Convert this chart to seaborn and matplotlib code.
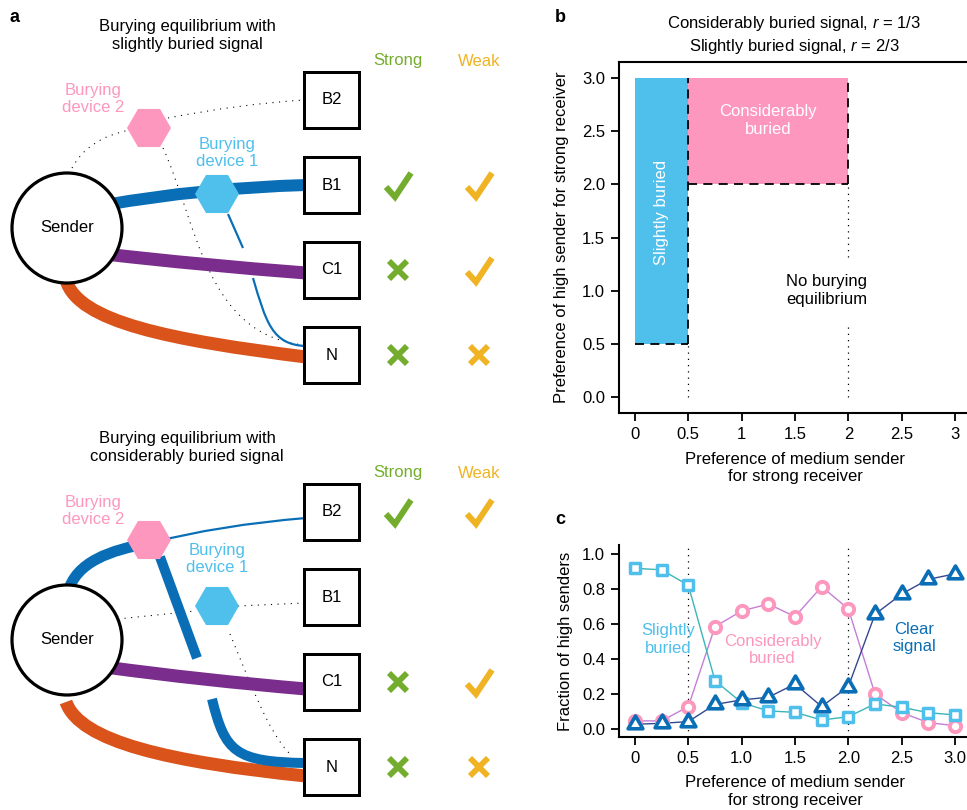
import numpy as np
import pandas as pd
import matplotlib
matplotlib.use("Agg")
import matplotlib.pyplot as plt
import seaborn as sns
from matplotlib.patches import Circle, Rectangle, RegularPolygon, PathPatch
from matplotlib.path import Path
from matplotlib.markers import MarkerStyle

# ---------------- data ----------------
# panel c
pref_medium = [0, 0.25, 0.5, 0.75, 1.0, 1.25, 1.5, 1.75, 2.0, 2.25, 2.5, 2.75, 3.0]
slightly_buried = [0.918, 0.909, 0.821, 0.276, 0.150, 0.103, 0.095, 0.051, 0.070, 0.143, 0.124, 0.093, 0.080]
considerably_buried = [0.046, 0.046, 0.128, 0.585, 0.674, 0.714, 0.642, 0.813, 0.686, 0.200, 0.093, 0.036, 0.019]
clear_signal = [0.027, 0.032, 0.042, 0.140, 0.166, 0.181, 0.257, 0.128, 0.242, 0.655, 0.771, 0.855, 0.886]

# panel b regions
region_names = ["Slightly buried", "Considerably buried"]
region_x0 = [0.0, 0.5]
region_x1 = [0.5, 2.0]
region_y0 = [0.5, 2.0]
region_y1 = [3.0, 3.0]
b_xticks = [0, 0.5, 1, 1.5, 2, 2.5, 3]
b_xticklabels = ["0", "0.5", "1", "1.5", "2", "2.5", "3"]
b_yticks = [0, 0.5, 1, 1.5, 2, 2.5, 3]
b_yticklabels = ["0.0", "0.5", "1.0", "1.5", "2.0", "2.5", "3.0"]
c_xticks = [0, 0.5, 1, 1.5, 2, 2.5, 3]
c_xticklabels = ["0", "0.5", "1.0", "1.5", "2.0", "2.5", "3.0"]
c_yticks = [0, 0.2, 0.4, 0.6, 0.8, 1.0]
c_yticklabels = ["0.0", "0.2", "0.4", "0.6", "0.8", "1.0"]

# panel a
receivers = ["B2", "B1", "C1", "N"]
strong_top = ["", "check", "cross", "cross"]
weak_top = ["", "check", "check", "cross"]
strong_bottom = ["check", "", "cross", "cross"]
weak_bottom = ["check", "", "check", "cross"]

# ---------------- style ----------------
sns.set_theme(style="ticks")
plt.rcParams["font.family"] = ["Liberation Sans", "DejaVu Sans"]
plt.rcParams["mathtext.fontset"] = "custom"
plt.rcParams["mathtext.it"] = "Liberation Sans:italic"
plt.rcParams["mathtext.rm"] = "Liberation Sans"
plt.rcParams["text.color"] = "black"
plt.rcParams["axes.labelcolor"] = "black"
plt.rcParams["axes.edgecolor"] = "black"

LIGHTBLUE = "#4fbfec"
PINK = "#fd97be"
DARKBLUE = "#0a6eb6"
PURPLE = "#7a2d8c"
ORANGE = "#d9531a"
GREEN = "#74ad2e"
YELLOW = "#f0b323"
FS = 12
PX = 0.72  # points per pixel

fig = plt.figure(figsize=(9.67, 8.10), dpi=100)
axd = fig.add_axes([0, 0, 1, 1])
axd.set_xlim(0, 967)
axd.set_ylim(810, 0)
axd.axis("off")


def curve(pts, codes, color, lw_px, ls="-", z=2):
    p = Path(pts, codes)
    patch = PathPatch(p, fill=False, edgecolor=color, lw=lw_px * PX, linestyle=ls,
                      capstyle="butt", zorder=z)
    axd.add_patch(patch)


def cubic(p0, c1, c2, p3, color, lw_px, ls="-", z=2):
    curve([p0, c1, c2, p3], [Path.MOVETO, Path.CURVE4, Path.CURVE4, Path.CURVE4], color, lw_px, ls, z)


def quad(p0, c, p2, color, lw_px, ls="-", z=2):
    curve([p0, c, p2], [Path.MOVETO, Path.CURVE3, Path.CURVE3], color, lw_px, ls, z)


DOT = (0, (1, 5))


def check(x, y, color):
    axd.plot([x - 12, x - 3, x + 13], [y + 2, y + 12, y - 12], color=color, lw=6 * PX,
             solid_joinstyle="miter", solid_capstyle="butt", zorder=5)


def cross(x, y, color):
    axd.plot([x - 9, x + 9], [y - 9, y + 9], color=color, lw=5.8 * PX, solid_capstyle="butt", zorder=5)
    axd.plot([x - 9, x + 9], [y + 9, y - 9], color=color, lw=5.8 * PX, solid_capstyle="butt", zorder=5)


def diagram(oy, title, strong, weak, top):
    axd.text(187, oy + 35, title, ha="center", va="center", fontsize=FS, linespacing=1.25)
    axd.text(398, oy + 61, "Strong", color=GREEN, ha="center", va="center", fontsize=FS)
    axd.text(479, oy + 61, "Weak", color=YELLOW, ha="center", va="center", fontsize=FS)
    ys = [oy + 100, oy + 185, oy + 270, oy + 355]
    for name, yc, s, w in zip(receivers, ys, strong, weak):
        axd.add_patch(Rectangle((304, yc - 28), 55, 56, facecolor="white", edgecolor="black",
                                lw=3 * PX, zorder=6))
        axd.text(331.5, yc, name, ha="center", va="center", fontsize=FS, zorder=7)
        for col, mark, xx in [(GREEN, s, 398), (YELLOW, w, 479)]:
            if mark == "check":
                check(xx, yc, col)
            elif mark == "cross":
                cross(xx, yc, col)
    sx, sy = 67, oy + 228
    axd.add_patch(Circle((sx, sy), 55, facecolor="white", edgecolor="black", lw=3.2 * PX, zorder=6))
    axd.text(sx, sy, "Sender", ha="center", va="center", fontsize=FS, zorder=7)
    h2 = (149, oy + 128)
    h1 = (217, oy + 194)
    for (hx, hy), col in [(h2, PINK), (h1, LIGHTBLUE)]:
        axd.add_patch(RegularPolygon((hx, hy), 6, radius=22, orientation=np.pi / 6,
                                     facecolor=col, edgecolor="none", zorder=4))
    axd.text(93, oy + 99, "Burying\ndevice 2", color=PINK, ha="center", va="center",
             fontsize=FS, linespacing=1.2)
    if top:
        axd.text(227, oy + 153, "Burying\ndevice 1", color=LIGHTBLUE, ha="center", va="center",
                 fontsize=FS, linespacing=1.2)
        # dotted paths
        quad((72, oy + 168), (88, oy + 138), (130, oy + 130), "black", 1.1, DOT, 1)
        quad((168, oy + 118), (240, oy + 104), (304, oy + 100), "black", 1.1, DOT, 1)
        cubic((163, oy + 148), (197, oy + 222), (205, oy + 335), (304, oy + 345), "black", 1.1, DOT, 1)
        # solid paths
        quad((105, oy + 205), (200, oy + 188), (306, oy + 185), DARKBLUE, 12)
        axd.plot([228, 243], [oy + 214, oy + 248], color=DARKBLUE, lw=2.2 * PX, solid_capstyle="butt", zorder=2)
        cubic((253, oy + 278), (266, oy + 322), (272, oy + 345), (306, oy + 346), DARKBLUE, 2.2)
        quad((105, oy + 254), (200, oy + 265), (306, oy + 273), PURPLE, 13)
        cubic((66, oy + 280), (78, oy + 322), (170, oy + 340), (306, oy + 357), ORANGE, 13)
    else:
        axd.text(217, oy + 147, "Burying\ndevice 1", color=LIGHTBLUE, ha="center", va="center",
                 fontsize=FS, linespacing=1.2)
        # dotted
        axd.plot([118, 195], [oy + 207, oy + 199], color="black", lw=1.1 * PX, ls=DOT, zorder=1)
        axd.plot([238, 304], [oy + 194, oy + 191], color="black", lw=1.1 * PX, ls=DOT, zorder=1)
        cubic((230, oy + 222), (250, oy + 270), (268, oy + 320), (290, oy + 342), "black", 1.1, DOT, 1)
        # solid
        cubic((68, oy + 180), (76, oy + 150), (110, oy + 138), (150, oy + 131), DARKBLUE, 11)
        quad((150, oy + 131), (220, oy + 113), (306, oy + 106), DARKBLUE, 2.2)
        axd.plot([160, 197], [oy + 145, oy + 246], color=DARKBLUE, lw=10 * PX, solid_capstyle="butt", zorder=2)
        quad((105, oy + 255), (200, oy + 268), (306, oy + 277), PURPLE, 13)
        cubic((66, oy + 290), (80, oy + 330), (170, oy + 350), (306, oy + 364), ORANGE, 13)
        cubic((212, oy + 287), (225, oy + 340), (235, oy + 350), (306, oy + 351), DARKBLUE, 10, "-", 3)


axd.text(15, 17, "a", fontsize=13, fontweight="bold", ha="center", va="center")
diagram(0, "Burying equilibrium with\nslightly buried signal", strong_top, weak_top, True)
diagram(412, "Burying equilibrium with\nconsiderably buried signal", strong_bottom, weak_bottom, False)
axd.text(560, 17, "b", fontsize=13, fontweight="bold", ha="center", va="center")
axd.text(560, 520, "c", fontsize=13, fontweight="bold", ha="center", va="center")

# ---------------- panel b ----------------
axb = fig.add_axes([619 / 967, 1 - 413 / 810, 352 / 967, 351 / 810])
axb.set_xlim(-0.15, 3.15)
axb.set_ylim(-0.15, 3.15)
for nm, x0, x1, y0, y1, col in zip(region_names, region_x0, region_x1, region_y0, region_y1, [LIGHTBLUE, PINK]):
    axb.fill_between([x0, x1], [y0, y0], [y1, y1], color=col, lw=0, zorder=1)
dash = (0, (5, 3.5))
lwd = 1.3
axb.plot([region_x1[0], region_x1[0]], [region_y0[0], region_y1[0]], color="black", lw=lwd, ls=dash, zorder=3)
axb.plot([region_x0[0], region_x1[0]], [region_y0[0], region_y0[0]], color="black", lw=lwd, ls=dash, zorder=3)
axb.plot([region_x0[1], region_x1[1]], [region_y0[1], region_y0[1]], color="black", lw=lwd, ls=dash, zorder=3)
axb.plot([region_x1[1], region_x1[1]], [region_y0[1], region_y1[1]], color="black", lw=lwd, ls=dash, zorder=3)
axb.plot([0.5, 0.5], [0, 0.5], color="black", lw=0.9, ls=(0, (1, 4)), zorder=2)
axb.plot([2.0, 2.0], [0, 0.7], color="black", lw=0.9, ls=(0, (1, 4)), zorder=2)
axb.plot([2.0, 2.0], [1.32, 2.0], color="black", lw=0.9, ls=(0, (1, 4)), zorder=2)
axb.text(0.25, 1.74, "Slightly buried", rotation=90, color="white", ha="center", va="center", fontsize=FS)
axb.text(1.25, 2.6, "Considerably\nburied", color="white", ha="center", va="center", fontsize=FS, linespacing=1.2)
axb.text(1.795, 1.0, "No burying\nequilibrium", color="black", ha="center", va="center", fontsize=FS, linespacing=1.2)
axb.set_xticks(b_xticks)
axb.set_xticklabels(b_xticklabels)
axb.set_yticks(b_yticks)
axb.set_yticklabels(b_yticklabels)
for sp in axb.spines.values():
    sp.set_linewidth(1.5)
axb.tick_params(labelsize=FS, width=1.3, length=6, pad=4, colors="black")
axb.set_xlabel("Preference of medium sender\nfor strong receiver", fontsize=FS, linespacing=1.2)
axb.set_ylabel("Preference of high sender for strong receiver", fontsize=FS)
axb.xaxis.set_label_coords(0.5, -0.11)
axb.yaxis.set_label_coords(-0.143, 0.5)
axb.xaxis.label.set_va("top")
axb.set_title("Considerably buried signal, $r$ = 1/3\nSlightly buried signal, $r$ = 2/3",
              fontsize=FS, linespacing=1.25, pad=8, color="black")
axb.title.set_position((0.4972, 1.0))

# ---------------- panel c ----------------
axc = fig.add_axes([619 / 967, 1 - 737 / 810, 352 / 967, 192 / 810])
axc.set_xlim(-0.15, 3.15)
axc.set_ylim(-0.046, 1.051)
axc.axvline(0.5, color="black", lw=0.9, ls=(0, (1, 4)), zorder=0)
axc.axvline(2.0, color="black", lw=0.9, ls=(0, (1, 4)), zorder=0)
df = pd.DataFrame({"x": pref_medium, "slightly": slightly_buried,
                   "considerably": considerably_buried, "clear": clear_signal})
sns.lineplot(data=df, x="x", y="considerably", color="#c47fd6", lw=1.0, ax=axc, zorder=2)
sns.lineplot(data=df, x="x", y="slightly", color="#3bb6b6", lw=1.0, ax=axc, zorder=2)
sns.lineplot(data=df, x="x", y="clear", color="#34488e", lw=1.0, ax=axc, zorder=2)
sns.scatterplot(data=df, x="x", y="considerably", marker="o", s=66, facecolor="white",
                edgecolor=PINK, linewidth=2.8, ax=axc, zorder=3)
sns.scatterplot(data=df, x="x", y="slightly", marker="s", s=52, facecolor="white",
                edgecolor=LIGHTBLUE, linewidth=2.5, ax=axc, zorder=4)
tri_path = Path([(-1, -0.58), (1, -0.58), (0, 1.15), (-1, -0.58)],
                [Path.MOVETO, Path.LINETO, Path.LINETO, Path.CLOSEPOLY])
tri = MarkerStyle(tri_path, joinstyle="miter")
sns.scatterplot(data=df, x="x", y="clear", marker=tri, s=150, facecolor="white",
                edgecolor=DARKBLUE, linewidth=2.6, ax=axc, zorder=5)
axc.text(0.31, 0.51, "Slightly\nburied", color=LIGHTBLUE, ha="center", va="center", fontsize=FS, linespacing=1.2)
axc.text(1.29, 0.45, "Considerably\nburied", color=PINK, ha="center", va="center", fontsize=FS, linespacing=1.2)
axc.text(2.62, 0.52, "Clear\nsignal", color=DARKBLUE, ha="center", va="center", fontsize=FS, linespacing=1.2)
axc.set_xticks(c_xticks)
axc.set_xticklabels(c_xticklabels)
axc.set_yticks(c_yticks)
axc.set_yticklabels(c_yticklabels)
sns.despine(ax=axc)
for sp in axc.spines.values():
    sp.set_linewidth(1.5)
axc.tick_params(labelsize=FS, width=1.3, length=6, pad=4, colors="black")
axc.set_xlabel("Preference of medium sender\nfor strong receiver", fontsize=FS, linespacing=1.2)
axc.set_ylabel("Fraction of high senders", fontsize=FS)
axc.xaxis.set_label_coords(0.5, -0.2)
axc.xaxis.label.set_va("top")
axc.yaxis.set_label_coords(-0.13, 0.5)

fig.savefig("out.png", dpi=100)
